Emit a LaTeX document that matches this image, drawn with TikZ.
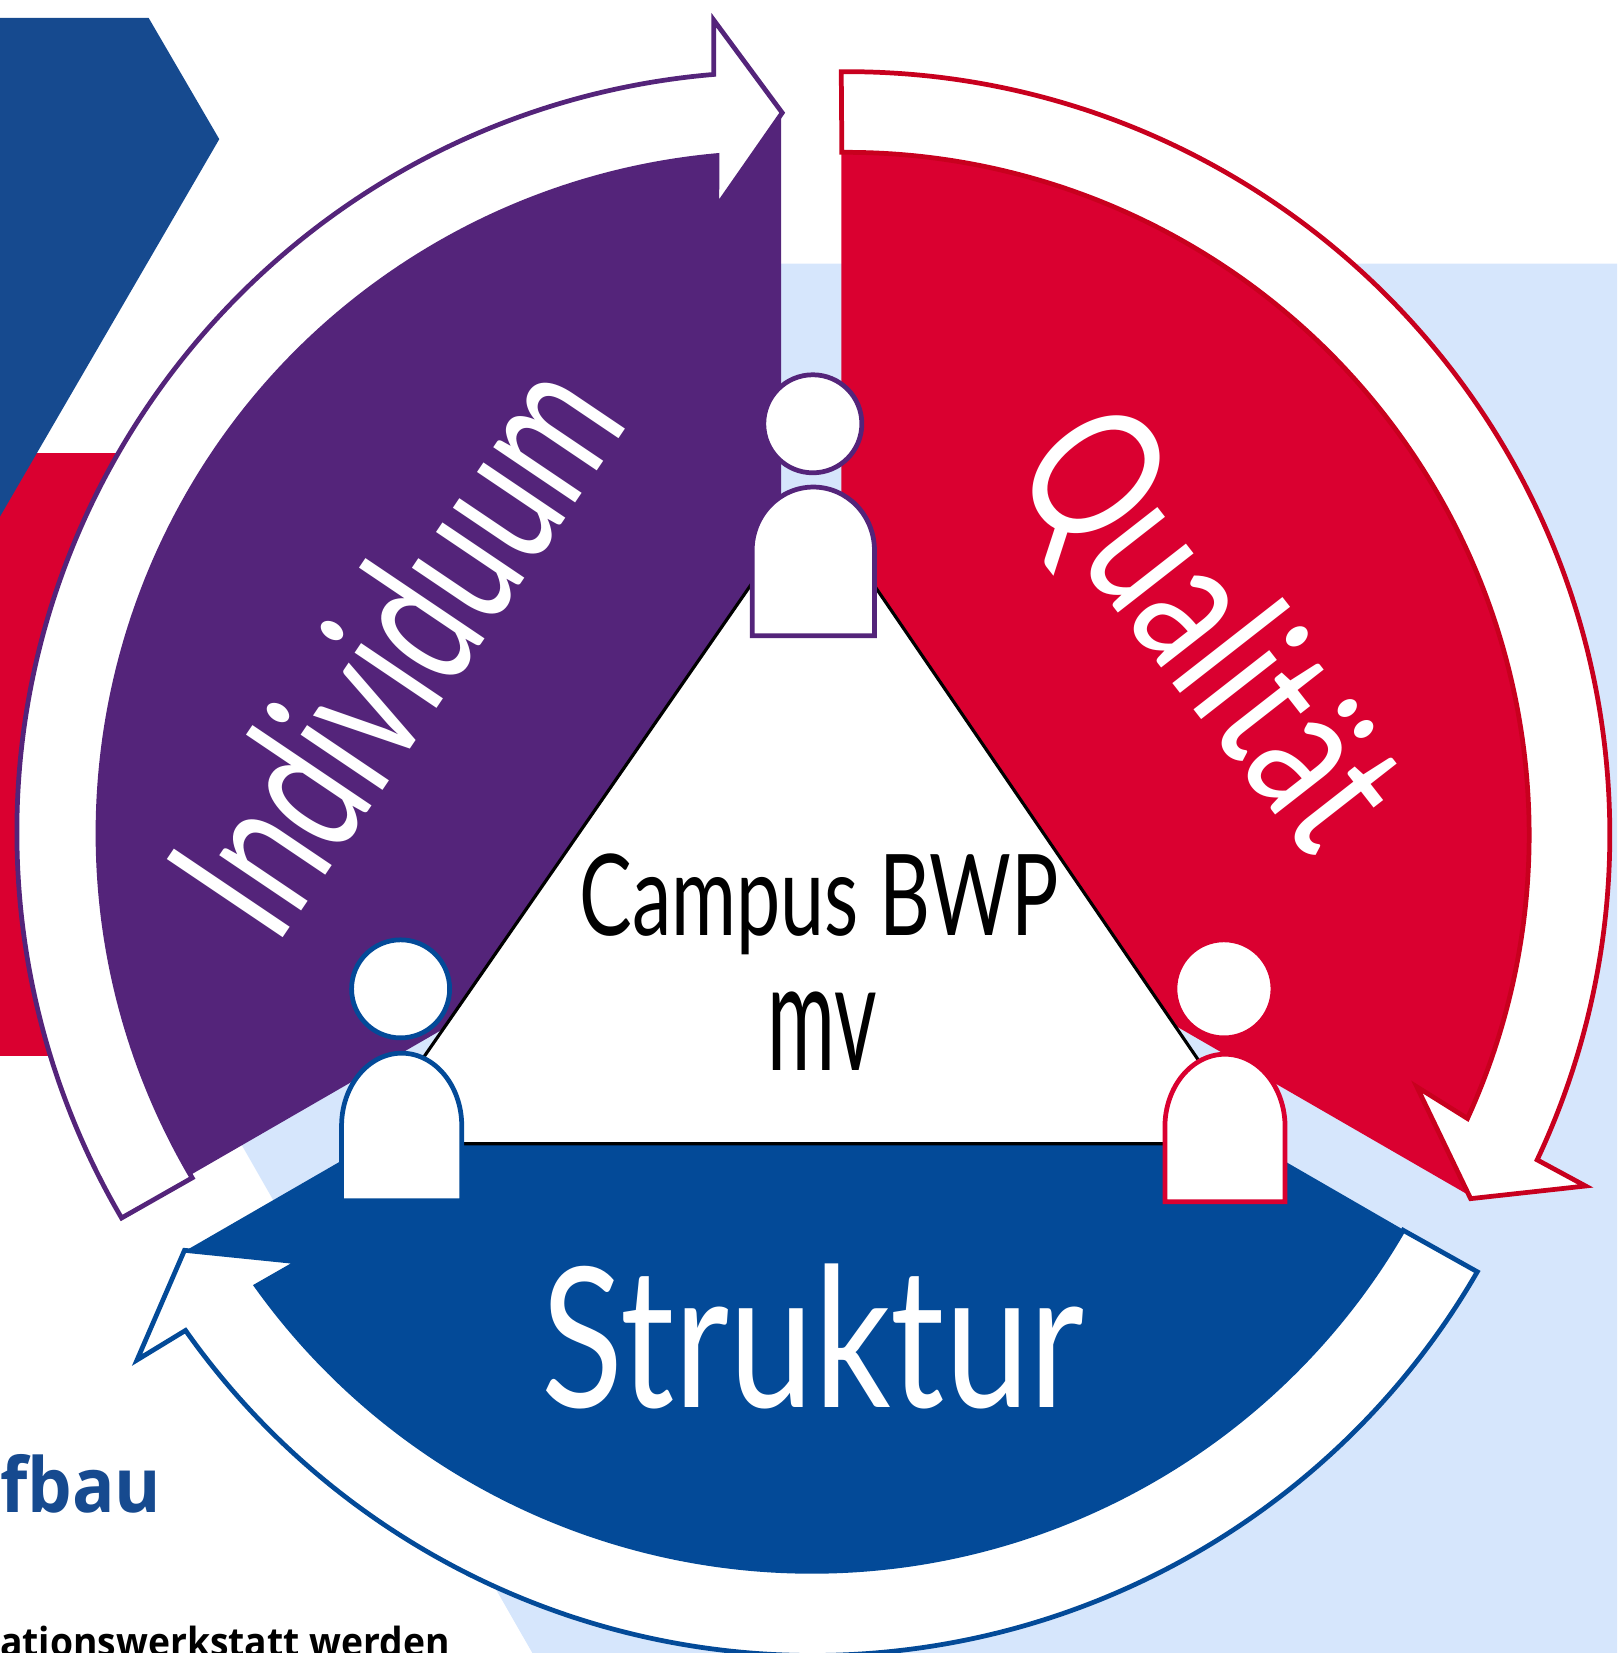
\documentclass[tikz,border=0pt]{standalone}
\usepackage{fontspec}
\usepackage{tikz}
\newfontfamily\handfont[FakeStretch=0.7]{Lato}
\newfontfamily\handwide[FakeStretch=0.775]{Lato}
\newfontfamily\handqual[FakeStretch=0.735]{Lato}
\newfontfamily\handnarrow[FakeStretch=0.665]{Lato}
\newfontfamily\handthin[FakeStretch=0.54]{Lato}
\newfontfamily\bodyfont[FakeStretch=0.93]{Open Sans}
\definecolor{campuspurple}{HTML}{54247A}
\definecolor{campusred}{HTML}{DA0030}
\definecolor{campusblue}{HTML}{034A98}
\definecolor{redline}{HTML}{C8001E}
\definecolor{paleblue}{HTML}{D6E6FC}
\definecolor{hexblue}{HTML}{164A8F}
\tikzset{
  arrowline/.style={fill=white, line width=4.5pt, line join=miter},
  personline/.style={fill=white, line width=4.5pt},
  handtext/.style={inner sep=0pt, anchor=base},
}
\begin{document}
\begin{tikzpicture}[x=1pt,y=1pt]
\useasboundingbox (0,-1568) rectangle (1534,0);
% background
\fill [paleblue] (741,-250) -- (1534,-250) -- (1534,-1568) -- (505,-1568) -- (200,-1035) -- cycle;
\fill [campusred] (0,-430) rectangle (200,-1002);
\fill [hexblue] (0,-17) -- (141,-17) -- (208,-132) -- (0,-490) -- cycle;
% sectors
\fill [campuspurple] (741,-791) -- (741,-107) arc (90:210:684) -- cycle;
\fill [campusred] (798,-790) -- (798,-100) arc (90:-30:690) -- cycle;
\fill [campusblue] (771,-843) -- (175,-1187) arc (210:330:688) -- cycle;
% ring arrows
\draw [arrowline, draw=campuspurple] (182.3,-1117.3) arc (210.5:95.16:645) -- (680,-196) -- (742,-107) -- (677,-19) -- (677,-70.6) arc (94.85:210.4:722) -- cycle;
\draw [arrowline, draw=redline] (798,-68) arc (90.4:-25.2:724) -- (1504,-1125) -- (1395,-1137) -- (1344,-1031) -- (1392,-1061) arc (-24.55:90.4:647.5) -- cycle;
\draw [arrowline, draw=campusblue] (176,-1262) arc (215.2:330:728) -- (1331,-1167) arc (329.95:215.6:648) -- (283,-1197) -- (175,-1186) -- (130,-1290) -- cycle;
% triangle
\draw [black, fill=white, line width=3pt] (771,-470) -- (1191,-1085) -- (345,-1085) -- cycle;
% persons
\draw [personline, draw=campuspurple] (771,-402) circle (46.5);
\draw [personline, draw=campuspurple] (713.5,-603) -- (713.5,-522) arc (180:0:58 and 60) -- (829.5,-603) -- cycle;
\draw [personline, draw=campusblue] (380,-938) circle (46.5);
\draw [personline, draw=campusblue] (324,-1139) -- (324,-1068) arc (180:0:57 and 69) -- (438,-1139) -- cycle;
\draw [personline, draw=campusred] (1161,-938) circle (46.5);
\draw [personline, draw=campusred] (1105,-1140) -- (1105,-1069) arc (180:0:57 and 69) -- (1219,-1140) -- cycle;
% labels
\node [handtext, white, rotate=56] (individuum) at (430,-650) {\fontsize{185}{185}\handnarrow Individuum};
\node [handtext, white, rotate=-52] (qualitaet) at (1100,-632) {\fontsize{180}{180}\handqual Qualität};
\node [handtext, white] (struktur) at (771,-1335) {\fontsize{185}{185}\handwide Struktur};
\node [handtext, black] (campus) at (777,-887) {\fontsize{107}{107}\handfont Campus BWP};
\node [handtext, black] (mv) at (780,-1015) {\fontsize{145}{145}\handthin mv};
\node [inner sep=0pt, anchor=base west, text=hexblue] (aufbau) at (0,-1435) {\fontsize{72}{72}\bodyfont\bfseries fbau};
\node [inner sep=0pt, anchor=base west, text=black] (werkstatt) at (0,-1571) {\fontsize{38}{38}\bodyfont\bfseries ationswerkstatt werden};
\end{tikzpicture}
\end{document}
